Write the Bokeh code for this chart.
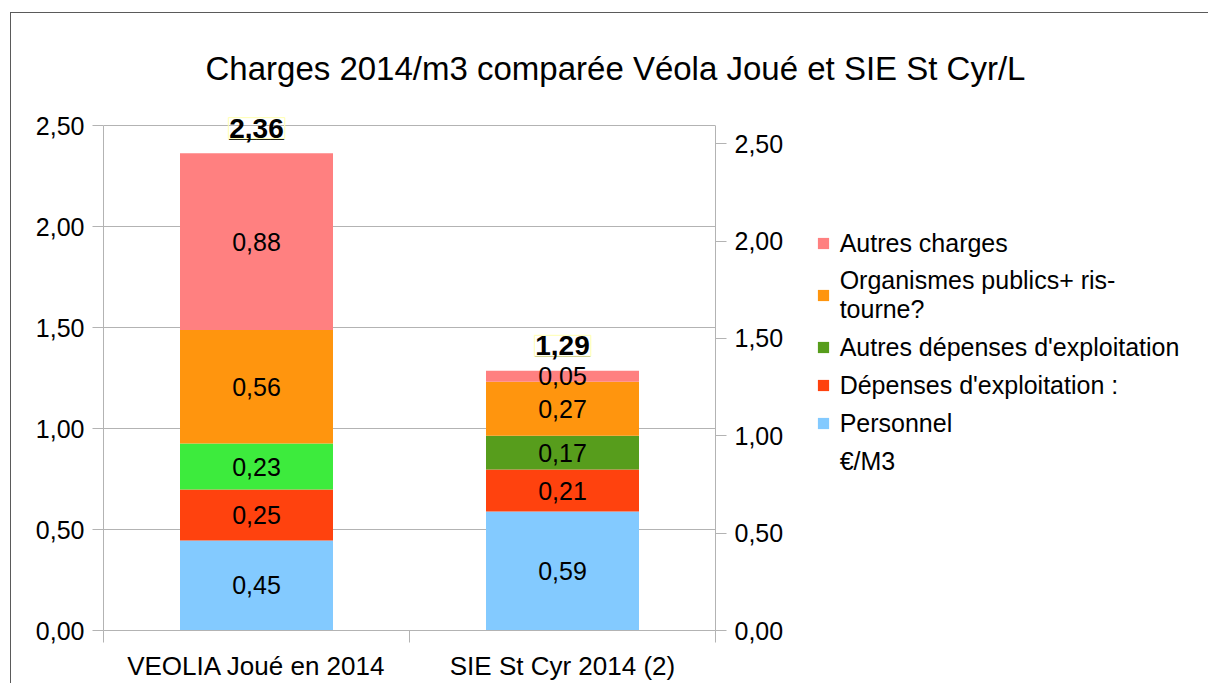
from bokeh.plotting import figure
from bokeh.models import (ColumnDataSource, Range1d, LinearAxis, FixedTicker,
                          Legend, LegendItem, Title)
from bokeh.core.properties import value
from bokeh.embed import file_html
from bokeh.resources import INLINE

# ---------------- data ----------------
categories = ["VEOLIA Joué en 2014", "SIE St Cyr 2014 (2)"]
personnel = [0.446, 0.589]
depenses_exploitation = [0.252, 0.208]
autres_depenses = [0.228, 0.168]
organismes_publics = [0.562, 0.267]
autres_charges = [0.876, 0.054]

series_labels = ["Personnel", "Dépenses d'exploitation :",
                 "Autres dépenses d'exploitation",
                 "Organismes publics+ ris-\ntourne?", "Autres charges"]
total_series_label = "€/M3"

y_ticks = [0.0, 0.5, 1.0, 1.5, 2.0, 2.5]
y_tick_labels = ["0,00", "0,50", "1,00", "1,50", "2,00", "2,50"]
chart_title = "Charges 2014/m3 comparée Véola Joué et SIE St Cyr/L"

# colours per series (per bar)
series_colors = [
    ["#83caff", "#83caff"],
    ["#ff420e", "#ff420e"],
    ["#3deb3d", "#579d1c"],
    ["#ff950e", "#ff950e"],
    ["#ff8080", "#ff8080"],
]

FONT = "Liberation Sans"

series_values = [personnel, depenses_exploitation, autres_depenses,
                 organismes_publics, autres_charges]
xs = [i + 0.5 for i in range(len(categories))]

def fmt(v):
    return f"{v:.2f}".replace(".", ",")

# figure canvas starts at page (11, 13) because of the CSS margin + border
OX, OY = 11, 13
FRAME_TOP = 105
p = figure(frame_width=612, frame_height=630 - FRAME_TOP,
           x_range=Range1d(0, 2), y_range=Range1d(0, 2.6),
           output_backend="svg", toolbar_location=None,
           min_border_left=103 - OX, min_border_right=0,
           min_border_top=FRAME_TOP - OY, min_border_bottom=670 - (630 - OY))
p.styles = {"margin-left": "10px", "margin-top": "12px",
            "border-left": "1px solid #5a5a5a", "border-top": "1px solid #5a5a5a"}
p.extra_y_ranges = {"right": Range1d(0, 2.696)}
p.outline_line_color = None
p.background_fill_color = "white"
p.border_fill_color = "white"

renderers = []
bottoms = [0.0] * len(categories)
for vals, cols in zip(series_values, series_colors):
    tops = [b + v for b, v in zip(bottoms, vals)]
    mids = [(b + t) / 2 for b, t in zip(bottoms, tops)]
    src = ColumnDataSource(dict(x=xs, bottom=list(bottoms), top=tops, color=cols,
                                mid=mids, lab=[fmt(v) for v in vals]))
    r = p.vbar(x="x", width=0.5, bottom="bottom", top="top", fill_color="color",
               line_color=None, source=src)
    p.text(x="x", y="mid", text="lab", source=src, text_align="center",
           text_baseline="middle", text_font=value(FONT), text_font_size="25px",
           text_color="black")
    renderers.append(r)
    bottoms = tops

totals = bottoms
tsrc = ColumnDataSource(dict(x=xs, y=totals, lab=[fmt(t) for t in totals],
                             ul=["____"] * len(totals)))
tr = p.scatter(x="x", y="y", source=tsrc, size=1, alpha=0)
p.text(x="x", y="y", text="ul", source=tsrc, text_align="center",
       text_baseline="alphabetic", y_offset=-25, text_font=value(FONT),
       text_font_style="bold", text_font_size="24.5px", text_color="black")
p.text(x="x", y="y", text="lab", source=tsrc, text_align="center",
       text_baseline="alphabetic", y_offset=-25, text_font=value(FONT),
       text_font_style="bold", text_font_size="28px", text_color="black",
       border_line_color="#ffffb0", padding=1)

# axes
overrides = {t: l for t, l in zip(y_ticks, y_tick_labels)}
ya = p.yaxis[0]
ya.ticker = FixedTicker(ticks=y_ticks)
ya.major_label_overrides = overrides
ya.bounds = (0, 2.5)
ra = LinearAxis(y_range_name="right", ticker=FixedTicker(ticks=y_ticks),
                major_label_overrides=overrides, bounds=(0, 2.594))
for ax in [ya, ra]:
    ax.axis_line_color = "#b3b3b3"
    ax.major_tick_line_color = "#b3b3b3"
    ax.major_tick_out = 11
    ax.major_tick_in = 0
    ax.minor_tick_line_color = None
    ax.major_label_text_font = FONT
    ax.major_label_text_font_size = "25px"
    ax.major_label_text_color = "black"
    ax.major_label_standoff = 8
p.add_layout(ra, "right")

xa = p.xaxis[0]
xa.ticker = FixedTicker(ticks=xs, minor_ticks=[0, 1, 2])
xa.major_label_overrides = {x: c for x, c in zip(xs, categories)}
xa.axis_line_color = "#b3b3b3"
xa.major_tick_line_color = None
xa.major_tick_out = 0
xa.major_tick_in = 0
xa.minor_tick_line_color = "#b3b3b3"
xa.minor_tick_out = 12
xa.minor_tick_in = 0
xa.major_label_text_font = FONT
xa.major_label_text_font_size = "26px"
xa.major_label_text_color = "black"
xa.major_label_standoff = 8

p.xgrid.visible = False
p.ygrid.ticker = ya.ticker
p.ygrid.grid_line_color = "#b3b3b3"

# title
p.title = Title(text=chart_title, align="left", offset=102, standoff=38,
                text_font=FONT, text_font_size="33px", text_font_style="normal",
                text_color="black")

# legend
items = [
    LegendItem(label=series_labels[4], renderers=[renderers[4]]),
    LegendItem(label=series_labels[3], renderers=[renderers[3]]),
    LegendItem(label=series_labels[2], renderers=[renderers[2]], index=1),
    LegendItem(label=series_labels[1], renderers=[renderers[1]]),
    LegendItem(label=series_labels[0], renderers=[renderers[0]]),
    LegendItem(label=total_series_label, renderers=[tr]),
]
legend = Legend(items=items, location=(-214, 154), padding=0, margin=0,
                border_line_alpha=0, background_fill_alpha=0,
                glyph_width=14, glyph_height=14, label_standoff=10,
                label_height=30, spacing=8,
                label_text_font=FONT, label_text_font_size="25px",
                label_text_color="black")
p.add_layout(legend, "right")

open("out.html", "w").write(file_html(p, INLINE))
